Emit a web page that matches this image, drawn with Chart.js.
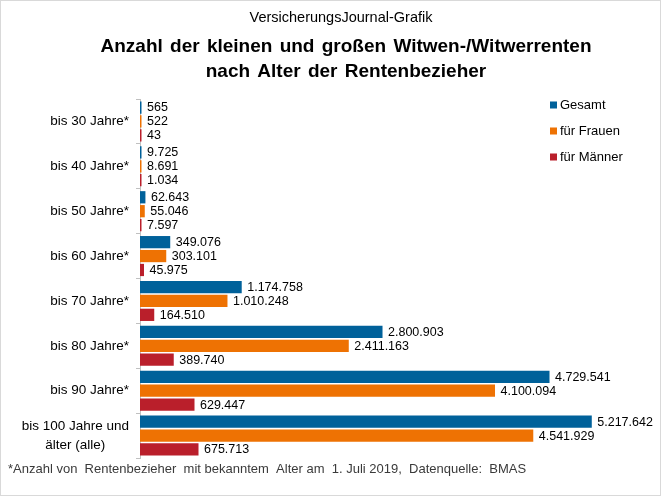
<!DOCTYPE html>
<html>
<head>
<meta charset="utf-8">
<script src="https://cdn.jsdelivr.net/npm/chart.js@4"></script>
<style>
  html, body { margin: 0; padding: 0; background: #fff; }
  #wrap { width: 661px; height: 496px; }
</style>
</head>
<body>
<div id="wrap"><canvas id="grafik" width="661" height="496"></canvas></div>
<script>
// Kategorien (Alter der Rentenbezieher)
const altersgruppen = [
    'bis 30 Jahre*', 'bis 40 Jahre*', 'bis 50 Jahre*', 'bis 60 Jahre*',
    'bis 70 Jahre*', 'bis 80 Jahre*', 'bis 90 Jahre*', ['bis 100 Jahre und', 'älter (alle)']
];
const gesamt = [565, 9725, 62643, 349076, 1174758, 2800903, 4729541, 5217642];
const frauen = [522, 8691, 55046, 303101, 1010248, 2411163, 4100094, 4541929];
const maenner = [43, 1034, 7597, 45975, 164510, 389740, 629447, 675713];
const serien = ['Gesamt', 'für Frauen', 'für Männer'];

const FARBEN = ['#00619a', '#ee7203', '#ba1f2b'];
const SCHRIFT = '"Liberation Sans", Arial, sans-serif';

// Zahl im deutschen Format (Tausenderpunkt)
function formatZahl(n) {
    return String(n).replace(/\B(?=(\d{3})+(?!\d))/g, '.');
}

// Titel, Fußnote, Legende und Achsenbeschriftungen selbst zeichnen
const textPlugin = {
    id: 'texte',
    afterDraw(chart) {
        const ctx = chart.ctx;
        ctx.save();
        // Rahmen
        ctx.strokeStyle = '#d9d9d9';
        ctx.lineWidth = 1;
        ctx.strokeRect(0.5, 0.5, chart.width - 1, chart.height - 1);

        ctx.fillStyle = '#000';
        ctx.textAlign = 'center';
        ctx.textBaseline = 'middle';
        ctx.font = '14.5px "Liberation Sans Narrow", ' + SCHRIFT;
        ctx.fillText('VersicherungsJournal-Grafik', 341, 18);
        ctx.font = 'bold 19px ' + SCHRIFT;
        ctx.wordSpacing = '2px';
        ctx.fillText('Anzahl der kleinen und großen Witwen-/Witwerrenten', 346, 47);
        ctx.fillText('nach Alter der Rentenbezieher', 346, 72);
        ctx.wordSpacing = '0px';

        // Fußnote
        ctx.textAlign = 'left';
        ctx.font = '13px ' + SCHRIFT;
        ctx.fillStyle = '#3a3a3a';
        ctx.fillText('*Anzahl von  Rentenbezieher  mit bekanntem  Alter am  1. Juli 2019,  Datenquelle:  BMAS', 8, 469);

        // Legende
        chart.data.datasets.forEach((ds, i) => {
            const y = 105 + i * 26;
            ctx.fillStyle = ds.backgroundColor;
            ctx.fillRect(550, y - 3.5, 7, 7);
            ctx.fillStyle = '#000';
            ctx.font = '13px ' + SCHRIFT;
            ctx.fillText(ds.label, 560, y);
        });

        // Kategorienbeschriftung (mehrzeilig zentriert)
        const yAchse = chart.scales.y;
        ctx.font = '13.5px ' + SCHRIFT;
        ctx.fillStyle = '#000';
        chart.data.labels.forEach((lab, i) => {
            const y = yAchse.getPixelForValue(i);
            if (Array.isArray(lab)) {
                const breite = Math.max(...lab.map(t => ctx.measureText(t).width));
                ctx.textAlign = 'center';
                lab.forEach((t, j) => {
                    ctx.fillText(t, 129 - breite / 2, y + (j - (lab.length - 1) / 2) * 19);
                });
            } else {
                ctx.textAlign = 'right';
                ctx.fillText(lab, 129, y);
            }
        });

        // Datenbeschriftungen
        ctx.textAlign = 'left';
        ctx.font = '12.5px ' + SCHRIFT;
        chart.data.datasets.forEach((ds, i) => {
            chart.getDatasetMeta(i).data.forEach((bar, j) => {
                ctx.fillText(formatZahl(ds.data[j]), bar.x + 5.5, bar.y + 0.5);
            });
        });
        ctx.restore();
    }
};

const grafik = new Chart(document.getElementById('grafik').getContext('2d'), {
    type: 'bar',
    data: {
        labels: altersgruppen,
        datasets: [
            { label: serien[0], data: gesamt, backgroundColor: FARBEN[0] },
            { label: serien[1], data: frauen, backgroundColor: FARBEN[1] },
            { label: serien[2], data: maenner, backgroundColor: FARBEN[2] }
        ]
    },
    options: {
        indexAxis: 'y',
        responsive: false,
        animation: false,
        layout: { padding: { top: 99, bottom: 38, left: 0, right: 11 } },
        datasets: {
            bar: { categoryPercentage: 0.93, barPercentage: 0.88, minBarLength: 1.5 }
        },
        plugins: {
            legend: { display: false },
            title: { display: false },
            tooltip: { enabled: false }
        },
        scales: {
            x: {
                display: false,
                min: 0,
                max: 5890000
            },
            y: {
                afterFit(scale) { scale.width = 140; },
                grid: {
                    offset: true,
                    drawOnChartArea: false,
                    tickLength: 4,
                    color: '#c0c0c0'
                },
                border: { color: '#c0c0c0' },
                ticks: { display: false }
            }
        }
    },
    plugins: [textPlugin]
});
</script>
</body>
</html>
